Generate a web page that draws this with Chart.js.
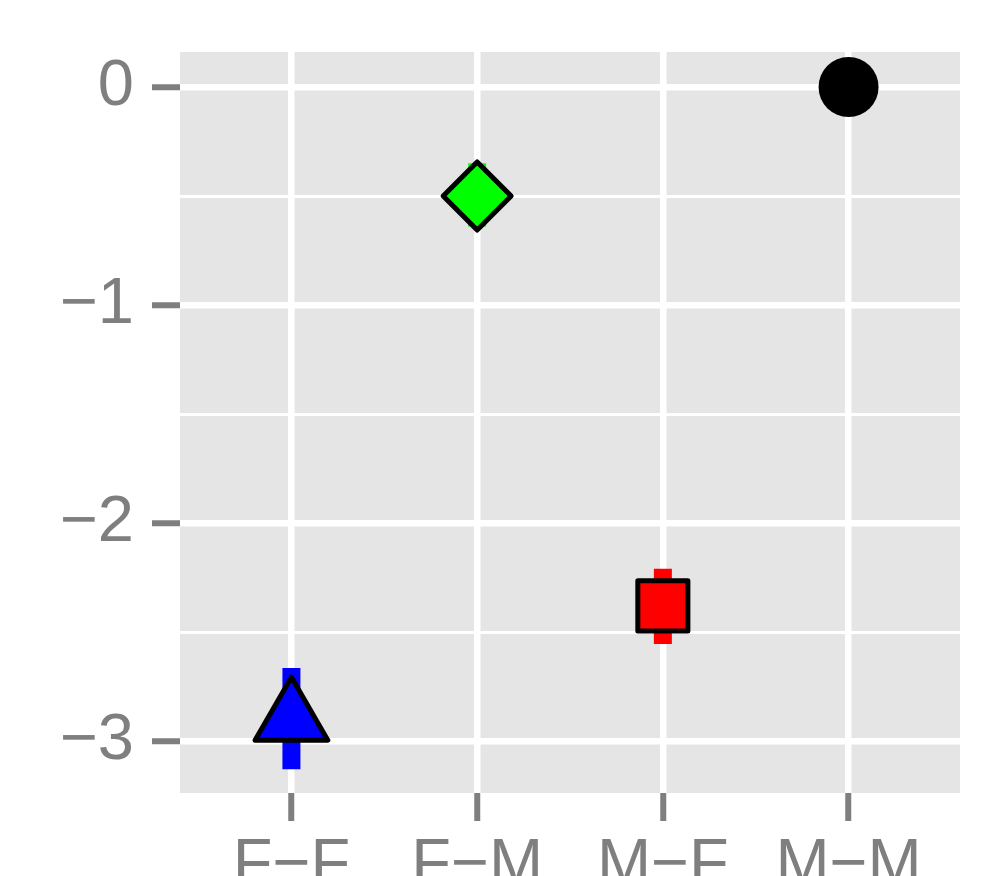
<!DOCTYPE html>
<html>
<head>
<meta charset="utf-8">
<script src="https://cdn.jsdelivr.net/npm/chart.js@4.4.1/dist/chart.umd.min.js"></script>
<style>
  html, body { margin: 0; padding: 0; background: #ffffff; }
  canvas { display: block; }
</style>
</head>
<body>
<canvas id="chart" width="988" height="876"></canvas>
<script>
// data
const categories = ['F\u2212F', 'F\u2212M', 'M\u2212F', 'M\u2212M'];
const estimates = [-2.9, -0.5, -2.38, 0];
const lower = [-3.13, -0.64, -2.555, 0];
const upper = [-2.665, -0.35, -2.21, 0];
const pointColors = ['#0000ff', '#00ff00', '#ff0000', '#000000'];
const pointShapes = ['triangle', 'rectRot', 'rect', 'circle'];
const yMajorTicks = [-3, -2, -1, 0];
const yMinorTicks = [-2.5, -1.5, -0.5];

const TICK_GREY = '#7f7f7f';
const PANEL_BG = '#e5e5e5';
const FONT = { family: '"Liberation Sans", Arial, Helvetica, sans-serif', size: 65 };
const SHAPE_RADIUS = { triangle: 42, rectRot: 34, rect: 35.4, circle: 30 };

const isMinor = (v) => yMinorTicks.includes(v);

// keep the panel exactly where the reference has it
function noLabelPadding(scale) {
  scale.paddingTop = 0;
  scale.paddingBottom = 0;
  scale.paddingLeft = 0;
  scale.paddingRight = 0;
}

const panelBackground = {
  id: 'panelBackground',
  beforeDraw(chart) {
    const { ctx, chartArea: a } = chart;
    ctx.save();
    ctx.fillStyle = PANEL_BG;
    ctx.fillRect(a.left, a.top, a.right - a.left, a.bottom - a.top);
    ctx.restore();
  },
};

// thick vertical range bars behind the points
const rangeBars = {
  id: 'rangeBars',
  beforeDatasetsDraw(chart) {
    const { ctx, scales: { x, y } } = chart;
    ctx.save();
    ctx.lineWidth = 18;
    ctx.lineCap = 'butt';
    categories.forEach((c, i) => {
      const px = x.getPixelForValue(i + 1);
      ctx.strokeStyle = pointColors[i];
      ctx.beginPath();
      ctx.moveTo(px, y.getPixelForValue(lower[i]));
      ctx.lineTo(px, y.getPixelForValue(upper[i]));
      ctx.stroke();
    });
    ctx.restore();
    ctx.lineJoin = 'round';
  },
};

new Chart(document.getElementById('chart'), {
  type: 'scatter',
  data: {
    datasets: [{
      data: estimates.map((v, i) => ({ x: i + 1, y: v })),
      pointStyle: pointShapes,
      pointRadius: pointShapes.map(s => SHAPE_RADIUS[s]),
      pointHoverRadius: pointShapes.map(s => SHAPE_RADIUS[s]),
      backgroundColor: pointColors,
      borderColor: '#000000',
      borderWidth: pointShapes.map(s => (s === 'circle' ? 0 : 5)),
    }],
  },
  options: {
    responsive: false,
    animation: false,
    events: [],
    layout: { autoPadding: false, padding: { top: 52, right: 28, left: 0, bottom: 0 } },
    plugins: { legend: { display: false }, tooltip: { enabled: false } },
    scales: {
      x: {
        type: 'linear',
        min: 0.4,
        max: 4.6,
        afterBuildTicks: (scale) => { scale.ticks = categories.map((c, i) => ({ value: i + 1 })); },
        afterFit: (scale) => { scale.height = 83; noLabelPadding(scale); },
        border: { display: false },
        grid: {
          color: '#ffffff',
          lineWidth: 6.5,
          tickLength: 28,
          tickColor: TICK_GREY,
          tickWidth: 6,
        },
        ticks: {
          autoSkip: false,
          maxRotation: 0,
          padding: 6,
          color: TICK_GREY,
          font: FONT,
          callback: (v) => categories[v - 1],
        },
      },
      y: {
        type: 'linear',
        min: -3.2385,
        max: 0.1606,
        afterBuildTicks: (scale) => {
          scale.ticks = [...yMajorTicks, ...yMinorTicks].sort((a, b) => a - b).map(v => ({ value: v }));
        },
        afterFit: (scale) => { scale.width = 180; noLabelPadding(scale); },
        border: { display: false },
        grid: {
          color: '#ffffff',
          lineWidth: (c) => (c.tick && isMinor(c.tick.value) ? 3 : 6.5),
          tickLength: 28,
          tickColor: (c) => (c.tick && isMinor(c.tick.value) ? 'rgba(0,0,0,0)' : TICK_GREY),
          tickWidth: 6,
        },
        ticks: {
          autoSkip: false,
          padding: 18,
          color: TICK_GREY,
          font: FONT,
          callback: (v) => (isMinor(v) ? '' : (v < 0 ? '\u2212' + Math.abs(v) : String(v))),
        },
      },
    },
  },
  plugins: [panelBackground, rangeBars],
});
</script>
</body>
</html>
